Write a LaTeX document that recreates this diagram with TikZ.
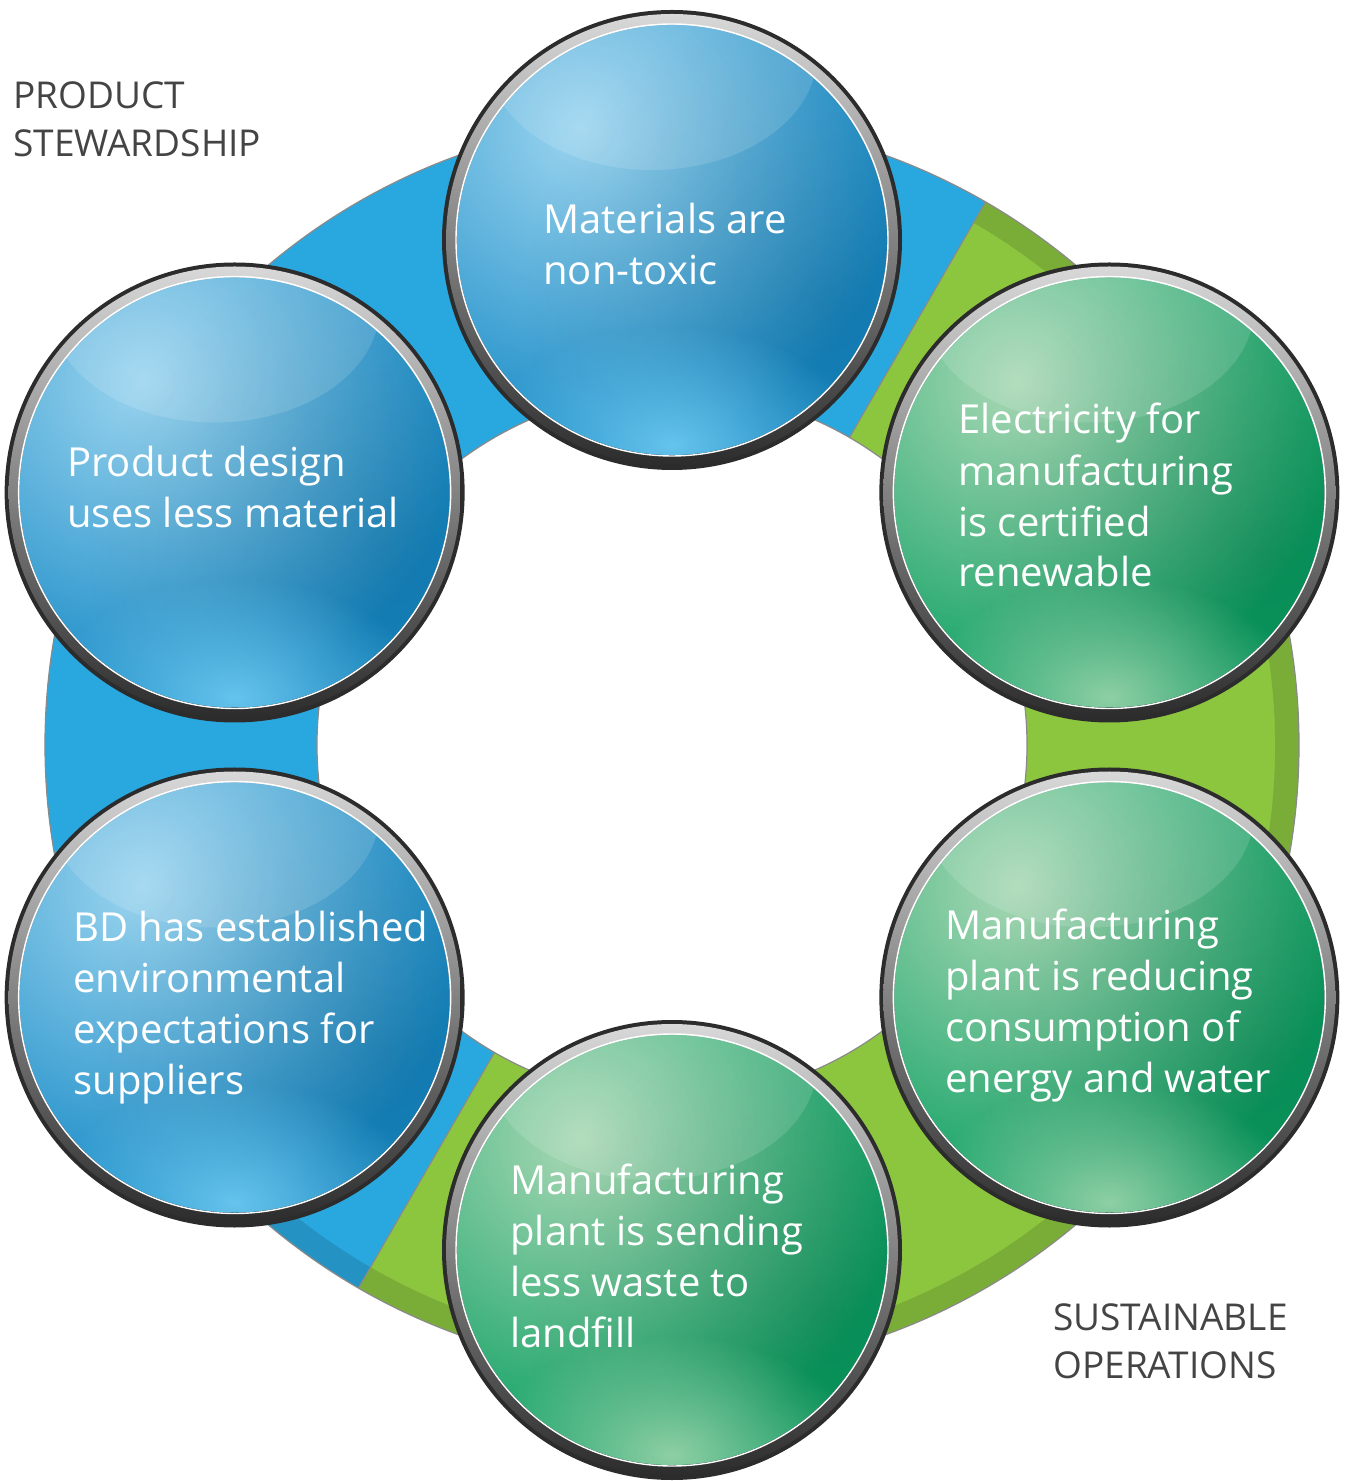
\documentclass[tikz,border=0pt]{standalone}
\usepackage{fontspec}
\setmainfont{Open Sans}
\usepackage{tikz}
\usetikzlibrary{calc,fadings}

\definecolor{ringblue}{HTML}{29A8E0}
\definecolor{ringgreen}{HTML}{8CC63F}
\definecolor{ringedge}{HTML}{8A8A8A}
\definecolor{ballblue}{HTML}{168AC6}
\definecolor{ballblueL}{HTML}{B3E2F7}
\definecolor{ballblueG}{HTML}{74CFF5}
\definecolor{ballgreen}{HTML}{0A9F62}
\definecolor{ballgreenL}{HTML}{C6E3C4}
\definecolor{ballgreenG}{HTML}{A6D9B2}
\definecolor{rimdark}{HTML}{2C2C2C}
\definecolor{rimlight}{HTML}{D8D8D8}
\definecolor{labelgray}{HTML}{444444}

\tikzfading[name=softglow, inner color=transparent!0, outer color=transparent!100]

% one glass ball: centre, base colour, light colour, glow colour
\newcommand{\glassball}[4]{%
  \fill[rimdark] (#1) circle (230);
  \shade[top color=rimlight, bottom color=rimdark] (#1) circle (226);
  \fill[#2] (#1) circle (215);
  \begin{scope}
    \clip (#1) circle (215);
    \fill[#3, path fading=softglow, fill opacity=.85] ($(#1)+(-90,110)$) circle (330);
    \fill[black, path fading=softglow, fill opacity=.12] ($(#1)+(150,-60)$) circle (300);
    \fill[#4, path fading=softglow, fill opacity=.85] ($(#1)+(0,-205)$) ellipse (190 and 120);
    \fill[white, opacity=.13] ($(#1)+(-20,185)$) ellipse (165 and 115);
  \end{scope}
  \draw[white, line width=.7pt] (#1) circle (216);
}

\begin{document}
\begin{tikzpicture}[x=.5pt, y=.5pt,
    balltext/.style={anchor=north west, inner sep=0pt, align=left, text=white,
      font=\fontsize{20}{25.5}\selectfont},
    sidelabel/.style={anchor=north west, inner sep=0pt, align=left, text=labelgray,
      font=\fontsize{18.5}{24}\selectfont}]
      \useasboundingbox (-672,-736) rectangle (676,745);
      % ring
      \fill[ringblue] (60:627) arc[start angle=60, end angle=240, radius=627]
        -- (240:355) arc[start angle=240, end angle=60, radius=355] -- cycle;
      \fill[ringgreen] (-120:627) arc[start angle=-120, end angle=60, radius=627]
        -- (60:355) arc[start angle=60, end angle=-120, radius=355] -- cycle;
      \fill[black, opacity=.12] (-150:627) arc[start angle=-150, end angle=60, radius=627]
        -- (60:603) arc[start angle=60, end angle=-150, radius=603] -- cycle;
      \draw[ringedge, line width=.6pt] (0,0) circle (627) (0,0) circle (355);
      \draw[ringedge, line width=.6pt] (60:355) -- (60:627) (240:355) -- (240:627);
      % balls
      \coordinate (Mat) at (90:505);
      \coordinate (Elec) at (30:505);
      \coordinate (Cons) at (-30:505);
      \coordinate (Waste) at (-90:505);
      \coordinate (Supp) at (-150:505);
      \coordinate (Design) at (150:505);
      \glassball{Mat}{ballblue}{ballblueL}{ballblueG}
      \glassball{Elec}{ballgreen}{ballgreenL}{ballgreenG}
      \glassball{Cons}{ballgreen}{ballgreenL}{ballgreenG}
      \glassball{Waste}{ballgreen}{ballgreenL}{ballgreenG}
      \glassball{Supp}{ballblue}{ballblueL}{ballblueG}
      \glassball{Design}{ballblue}{ballblueL}{ballblueG}
      % texts
      \node (tMat) at (-129,542) [balltext] {Materials are\\non-toxic};
      \node (tElec) at (286,342) [balltext] {Electricity for\\manufacturing\\is certified\\renewable};
      \node (tCons) at (273,-163) [balltext] {Manufacturing\\plant is reducing\\consumption of\\energy and water};
      \node (tWaste) at (-162,-418) [balltext] {Manufacturing\\plant is sending\\less waste to\\landfill};
      \node (tSupp) at (-599,-166) [balltext] {BD has established\\environmental\\expectations for\\suppliers};
      \node (tDesign) at (-605,299) [balltext] {Product design\\uses less material};
      \node (steward) at (-659,664) [sidelabel] {PRODUCT\\STEWARDSHIP};
      \node (sustain) at (381,-558) [sidelabel] {SUSTAINABLE\\OPERATIONS};
\end{tikzpicture}
\end{document}
